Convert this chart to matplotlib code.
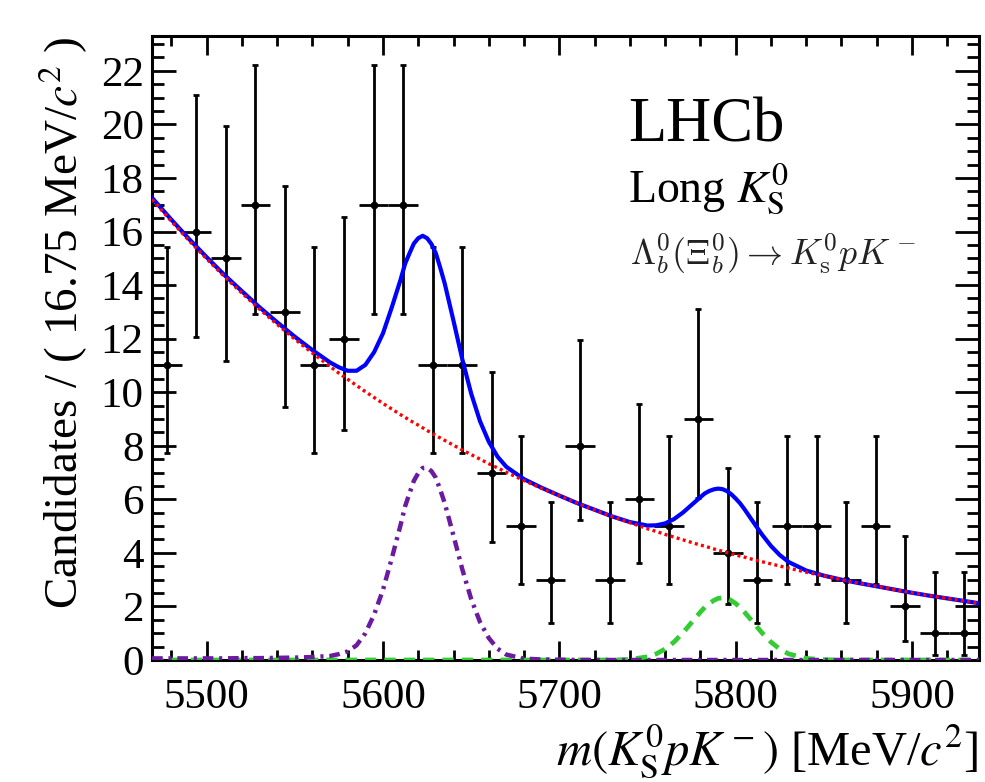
import numpy as np
import matplotlib
matplotlib.use("Agg")
import matplotlib.pyplot as plt
from matplotlib.ticker import MultipleLocator

plt.rcParams['font.family'] = ['Liberation Serif', 'DejaVu Serif']
plt.rcParams['mathtext.fontset'] = 'stix'

# ---------------- data ----------------
bin_low = 5469.0
bin_width = 16.75
counts = [11, 16, 15, 17, 13, 11, 12, 17, 17, 11, 11, 7, 5, 3,
          8, 3, 6, 5, 9, 4, 3, 5, 5, 3, 5, 2, 1, 1]

# fit curves
curve_mass = [5469, 5480, 5490, 5500, 5510, 5520, 5530, 5540, 5550, 5560,
              5570, 5575, 5580, 5585, 5590, 5595, 5600, 5605, 5610,
              5612.5, 5615, 5617.5, 5620, 5622.5, 5625, 5627.5, 5630, 5632.5, 5635, 5637.5,
              5640, 5645, 5650, 5655, 5660, 5665, 5670,
              5680, 5690, 5700, 5710, 5720, 5730, 5740,
              5750, 5755, 5760, 5765, 5770, 5775, 5780,
              5782.5, 5785, 5787.5, 5790, 5792.5, 5795, 5797.5, 5800, 5802.5, 5805,
              5810, 5815, 5820, 5825, 5830,
              5840, 5850, 5860, 5870, 5880, 5890, 5900, 5910, 5920, 5930, 5938]
background = [17.20, 16.38, 15.66, 14.98, 14.32, 13.70, 13.10, 12.53, 11.98, 11.46,
              10.96, 10.71, 10.48, 10.25, 10.02, 9.80, 9.58, 9.37, 9.16,
              9.06, 8.96, 8.86, 8.77, 8.67, 8.57, 8.48, 8.38, 8.29, 8.20, 8.11,
              8.02, 7.84, 7.67, 7.50, 7.33, 7.17, 7.01,
              6.70, 6.41, 6.13, 5.86, 5.61, 5.36, 5.13,
              4.90, 4.80, 4.69, 4.59, 4.49, 4.39, 4.29,
              4.25, 4.20, 4.15, 4.10, 4.06, 4.01, 3.97, 3.92, 3.88, 3.84,
              3.75, 3.67, 3.59, 3.51, 3.43,
              3.28, 3.14, 3.00, 2.87, 2.75, 2.63, 2.51, 2.40, 2.30, 2.20, 2.12]
lambda_b = ([0.06, 0.06, 0.06, 0.06, 0.06, 0.07, 0.07, 0.08, 0.09, 0.11,
             0.15, 0.22, 0.32, 0.55, 1.00, 1.70, 2.62, 3.80, 5.05,
             5.73, 6.22, 6.69, 6.98, 7.17, 7.18, 7.05, 6.80, 6.35, 5.86, 5.25,
             4.64, 3.38, 2.28, 1.42, 0.82, 0.42, 0.20,
             0.05, 0.02, 0.01, 0.0, 0.0, 0.0, 0.0]
            + [0.0] * 33)
xi_b = ([0.0] * 43
        + [0.02,
           0.12, 0.23, 0.41, 0.67, 1.01, 1.40, 1.79,
           1.97, 2.11, 2.22, 2.30, 2.32, 2.30, 2.22, 2.11, 1.97, 1.79,
           1.40, 1.01, 0.67, 0.41, 0.23,
           0.06, 0.01, 0.0, 0.0, 0.0, 0.0, 0.0, 0.0, 0.0, 0.0, 0.0])

x_ticks = [5500, 5600, 5700, 5800, 5900]
y_ticks = [0, 2, 4, 6, 8, 10, 12, 14, 16, 18, 20, 22]

# ---------------- derived quantities ----------------
n = np.asarray(counts, dtype=float)
centers = bin_low + bin_width * (np.arange(len(n)) + 0.5)
# Poisson (Garwood) 68% interval, Gehrels approximation
lo = n * (1 - 1 / (9 * n) - 1 / (3 * np.sqrt(n))) ** 3
hi = (n + 1) * (1 - 1 / (9 * (n + 1)) + 1 / (3 * np.sqrt(n + 1))) ** 3
total = np.asarray(background) + np.asarray(lambda_b) + np.asarray(xi_b)

# ---------------- figure ----------------
X0, X1, Y0, Y1 = 152, 979, 660, 36   # axes box in pixels
fig = plt.figure(figsize=(9.85, 7.82), dpi=100)
ax = fig.add_axes([X0 / 985, 1 - Y0 / 782, (X1 - X0) / 985, (Y0 - Y1) / 782])

ax.errorbar(centers, n, yerr=[n - lo, hi - n], fmt='none', ecolor='black',
            elinewidth=2.0, capsize=2.5, capthick=2.0, zorder=2)
ax.errorbar(centers, n, xerr=bin_width / 2, fmt='o', ms=4.5, color='black',
            mec='black', elinewidth=2.0, capsize=0, zorder=2)

ax.plot(curve_mass, xi_b, color='#33cc33', lw=3.4, ls=(0, (2.4, 1.7)), zorder=3)
ax.plot(curve_mass, lambda_b, color='#6a1ba0', lw=3.2, ls=(0, (2.4, 1.3, 0.7, 1.3)), zorder=3)
ax.plot(curve_mass, total, color='#0000ff', lw=3.0, zorder=4)
ax.plot(curve_mass, background, color='#ff0000', lw=2.4, ls=(0, (0.9, 1.0)), zorder=5)

ax.set_xlim(bin_low, bin_low + bin_width * len(n))
ax.set_ylim(0, 23.3)
ax.set_xticks(x_ticks)
ax.set_yticks(y_ticks)
ax.xaxis.set_minor_locator(MultipleLocator(20))
ax.yaxis.set_minor_locator(MultipleLocator(0.5))
ax.tick_params(which='both', direction='in', top=True, right=True, width=2.0,
               labelsize=31, colors='black')
ax.tick_params(axis='x', which='major', length=14, pad=13)
ax.tick_params(axis='x', which='minor', length=7)
ax.tick_params(axis='y', which='major', length=17, pad=6)
ax.tick_params(axis='y', which='minor', length=8.5)
for s in ax.spines.values():
    s.set_linewidth(2.2)

ax.set_xlabel(r'$m(K^0_\mathrm{S}pK^-)$ [MeV/$c^2$]', fontsize=35, loc='right', labelpad=4)
ax.set_ylabel(r'Candidates / ( 16.75 MeV/$c^2$ )', fontsize=34, loc='top', labelpad=8)


def axfrac(px, py):
    return (px - X0) / (X1 - X0), (Y0 - py) / (Y0 - Y1)


tr = ax.transAxes
fx, fy = axfrac(628, 142)
ax.text(fx, fy, 'LHCb', transform=tr, fontsize=45, ha='left', va='baseline')
fx, fy = axfrac(628, 202)
ax.text(fx, fy, r'Long $K^0_\mathrm{S}$', transform=tr, fontsize=33, ha='left', va='baseline')
fx, fy = axfrac(630, 265)
ax.text(fx, fy, r'$\Lambda^0_b(\Xi^0_b) \rightarrow K^0_\mathrm{s} p K^-$', transform=tr,
        fontsize=26, ha='left', va='baseline', color='#222222', math_fontfamily='cm')

fig.savefig('out.png', dpi=100)
